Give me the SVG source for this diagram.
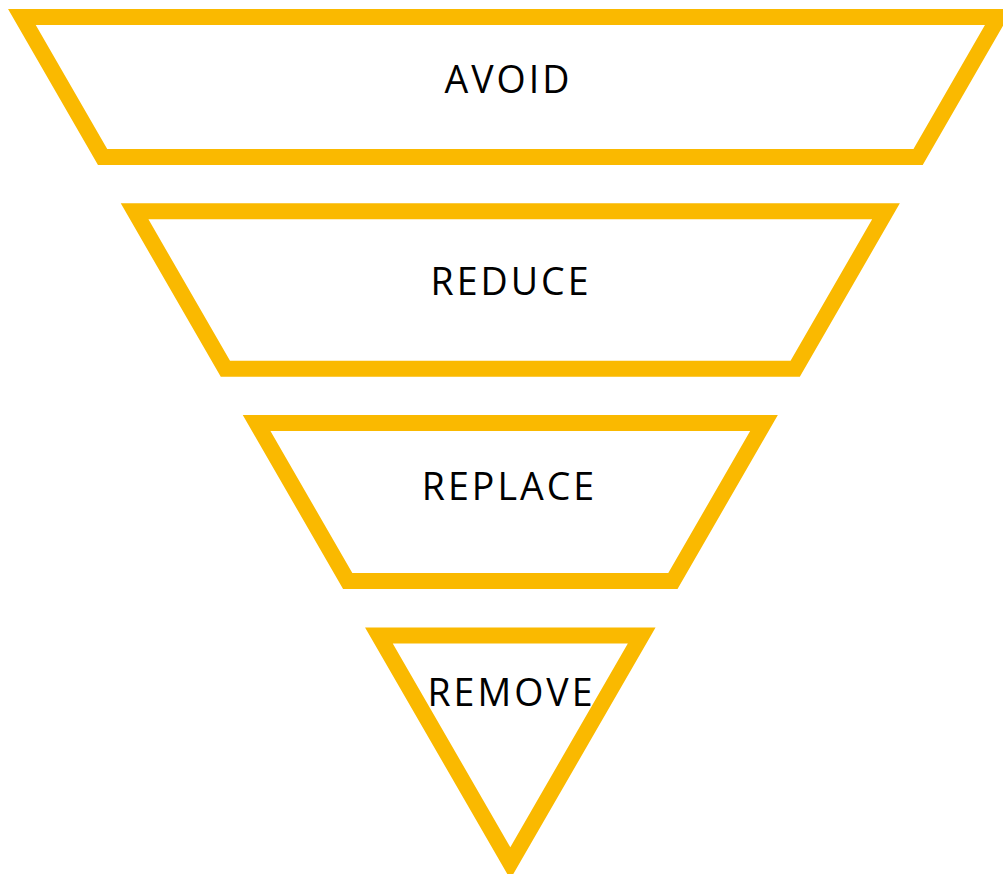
<svg xmlns="http://www.w3.org/2000/svg" width="1003" height="874" viewBox="0 0 1003 874">
<style>
.tier{fill:#ffffff;stroke:#fab900;stroke-width:16;stroke-linejoin:miter;stroke-miterlimit:10}
.lbl{font-family:"Open Sans","Liberation Sans",sans-serif;font-size:37.5px;fill:#000000;text-anchor:middle;letter-spacing:3px}
</style>
<rect width="1003" height="874" fill="#ffffff"/>
<g id="avoid">
<polygon class="tier" points="21.9,17 998.8,17 918.1,157 102.6,157"/>
<text class="lbl" x="508.5" y="93">AVOID</text>
</g>
<g id="reduce">
<polygon class="tier" points="134.6,211.3 886,211.3 795.2,368.8 225.4,368.8"/>
<text class="lbl" x="511" y="294.5">REDUCE</text>
</g>
<g id="replace">
<polygon class="tier" points="256.6,423 764,423 672.9,581 347.7,581"/>
<text class="lbl" x="509.5" y="499.5">REPLACE</text>
</g>
<g id="remove">
<polygon class="tier" points="378.9,635.5 641.7,635.5 510.3,863.2"/>
<text class="lbl" x="511.5" y="706">REMOVE</text>
</g>
<g id="connectors"></g>
</svg>
